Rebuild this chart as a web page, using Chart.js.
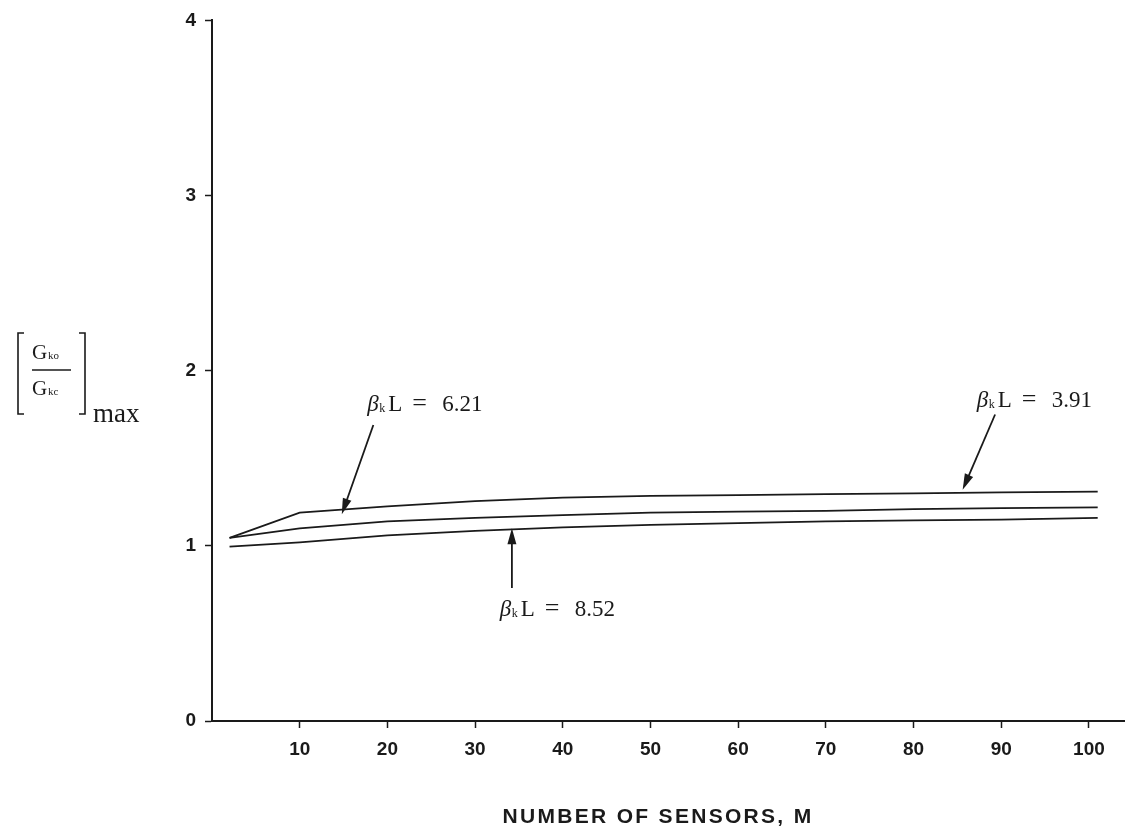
<!DOCTYPE html>
<html>
<head>
<meta charset="utf-8">
<script src="https://cdn.jsdelivr.net/npm/chart.js@4.4.1/dist/chart.umd.min.js"></script>
<style>
  html, body { margin: 0; padding: 0; background: #fff; }
  #wrap { width: 1132px; height: 833px; }
</style>
</head>
<body>
<div id="wrap"><canvas id="gain-chart"></canvas></div>
<script>
// number of sensors M
const sensors = [2, 10, 20, 30, 40, 50, 60, 70, 80, 90, 101];
// [Gko/Gkc]max for each beta_k L
const gain391 = [1.045, 1.19, 1.225, 1.255, 1.275, 1.285, 1.29, 1.295, 1.30, 1.305, 1.31];
const gain621 = [1.045, 1.10, 1.14, 1.16, 1.175, 1.19, 1.195, 1.20, 1.21, 1.215, 1.22];
const gain852 = [0.995, 1.02, 1.06, 1.085, 1.105, 1.12, 1.13, 1.14, 1.145, 1.15, 1.16];

const xTicks = [10, 20, 30, 40, 50, 60, 70, 80, 90, 100];
const yTicks = [0, 1, 2, 3, 4];

// labels with arrows, in data units
const notes = [
    { value: "3.91", at: [87.2, 1.795], from: [89.3, 1.75], to: [85.6, 1.32] },
    { value: "6.21", at: [17.7, 1.77], from: [18.4, 1.69], to: [14.8, 1.18] },
    { value: "8.52", at: [32.8, 0.60], from: [34.2, 0.76], to: [34.2, 1.10] },
];

const xTitle = "NUMBER OF SENSORS, M";

const ink = "#1a1a1a";
const serif = '"Liberation Serif", "Times New Roman", serif';
const sans = '"Liberation Sans", Arial, sans-serif';

const toPoints = (ys) => sensors.map((m, i) => ({ x: m, y: ys[i] }));

function arrow(ctx, x1, y1, x2, y2) {
    const ang = Math.atan2(y2 - y1, x2 - x1);
    const len = 16, half = 4.5;
    ctx.beginPath();
    ctx.moveTo(x1, y1);
    ctx.lineTo(x2 - Math.cos(ang) * len * 0.8, y2 - Math.sin(ang) * len * 0.8);
    ctx.stroke();
    ctx.beginPath();
    ctx.moveTo(x2, y2);
    ctx.lineTo(x2 - Math.cos(ang) * len + Math.sin(ang) * half, y2 - Math.sin(ang) * len - Math.cos(ang) * half);
    ctx.lineTo(x2 - Math.cos(ang) * len - Math.sin(ang) * half, y2 - Math.sin(ang) * len + Math.cos(ang) * half);
    ctx.closePath();
    ctx.fill();
}

function betaLabel(ctx, x, y, value) {
    ctx.textAlign = "left";
    ctx.textBaseline = "alphabetic";
    ctx.font = "italic 23px " + serif;
    ctx.fillText("\u03B2", x, y);
    ctx.font = "12px " + serif;
    ctx.fillText("k", x + 12, y + 1);
    ctx.font = "23px " + serif;
    ctx.fillText("L", x + 21, y);
    ctx.font = "26px " + serif;
    ctx.fillText("=", x + 45, y);
    ctx.font = "23px " + serif;
    ctx.fillText(value, x + 75, y);
}

const annotate = {
    id: "annotate",
    afterDatasetsDraw(chart) {
        const { ctx, scales: { x, y } } = chart;
        ctx.save();
        ctx.fillStyle = ink;
        ctx.strokeStyle = ink;
        ctx.lineWidth = 1.8;
        notes.forEach((n) => {
            arrow(ctx,
                x.getPixelForValue(n.from[0]), y.getPixelForValue(n.from[1]),
                x.getPixelForValue(n.to[0]), y.getPixelForValue(n.to[1]));
            betaLabel(ctx, x.getPixelForValue(n.at[0]), y.getPixelForValue(n.at[1]), n.value);
        });

        // y axis label [Gko / Gkc]max
        ctx.lineWidth = 1.6;
        ctx.beginPath();
        ctx.moveTo(24, 333); ctx.lineTo(18, 333); ctx.lineTo(18, 414); ctx.lineTo(24, 414);
        ctx.moveTo(79, 333); ctx.lineTo(85, 333); ctx.lineTo(85, 414); ctx.lineTo(79, 414);
        ctx.stroke();
        ctx.lineWidth = 1.3;
        ctx.beginPath();
        ctx.moveTo(32, 370); ctx.lineTo(71, 370);
        ctx.stroke();
        ctx.textAlign = "left";
        ctx.font = "21px " + serif;
        ctx.fillText("G", 32, 359);
        ctx.fillText("G", 32, 395);
        ctx.font = "11px " + serif;
        ctx.fillText("ko", 48, 359);
        ctx.fillText("kc", 48, 395);
        ctx.font = "27px " + serif;
        ctx.fillText("max", 93, 422);

        // x axis title, spaced out like the original lettering
        ctx.font = "bold 21px " + sans;
        ctx.letterSpacing = "2.3px";
        ctx.textAlign = "center";
        ctx.fillText(xTitle, 658, 823);
        ctx.restore();
    },
};

new Chart(document.querySelector("#gain-chart").getContext("2d"), {
    type: "line",
    data: {
        datasets: [gain391, gain621, gain852].map((g) => ({
            data: toPoints(g),
            borderColor: ink,
            borderWidth: 1.8,
            pointRadius: 0,
            tension: 0,
            fill: false,
        })),
    },
    options: {
        responsive: true,
        maintainAspectRatio: false,
        animation: false,
        layout: { padding: { top: 15, right: 8, left: 0, bottom: 0 } },
        plugins: {
            legend: { display: false },
            tooltip: { enabled: false },
        },
        scales: {
            x: {
                type: "linear",
                min: 0,
                max: 104,
                afterBuildTicks: (axis) => { axis.ticks = xTicks.map((v) => ({ value: v })); },
                afterFit: (axis) => { axis.height = 112; },
                border: { color: ink, width: 2 },
                grid: { drawOnChartArea: false, drawTicks: true, tickLength: 7, tickColor: ink, tickWidth: 1.5 },
                ticks: {
                    color: ink,
                    padding: 10,
                    maxRotation: 0,
                    autoSkip: false,
                    font: { family: sans, size: 19, weight: "bold" },
                },
            },
            y: {
                min: 0,
                max: 4,
                afterBuildTicks: (axis) => { axis.ticks = yTicks.map((v) => ({ value: v })); },
                afterFit: (axis) => { axis.width = 212; },
                border: { color: ink, width: 2 },
                grid: { drawOnChartArea: false, drawTicks: true, tickLength: 7, tickColor: ink, tickWidth: 1.5 },
                ticks: {
                    color: ink,
                    padding: 9,
                    font: { family: sans, size: 19, weight: "bold" },
                },
            },
        },
    },
    plugins: [annotate],
});
</script>
</body>
</html>
